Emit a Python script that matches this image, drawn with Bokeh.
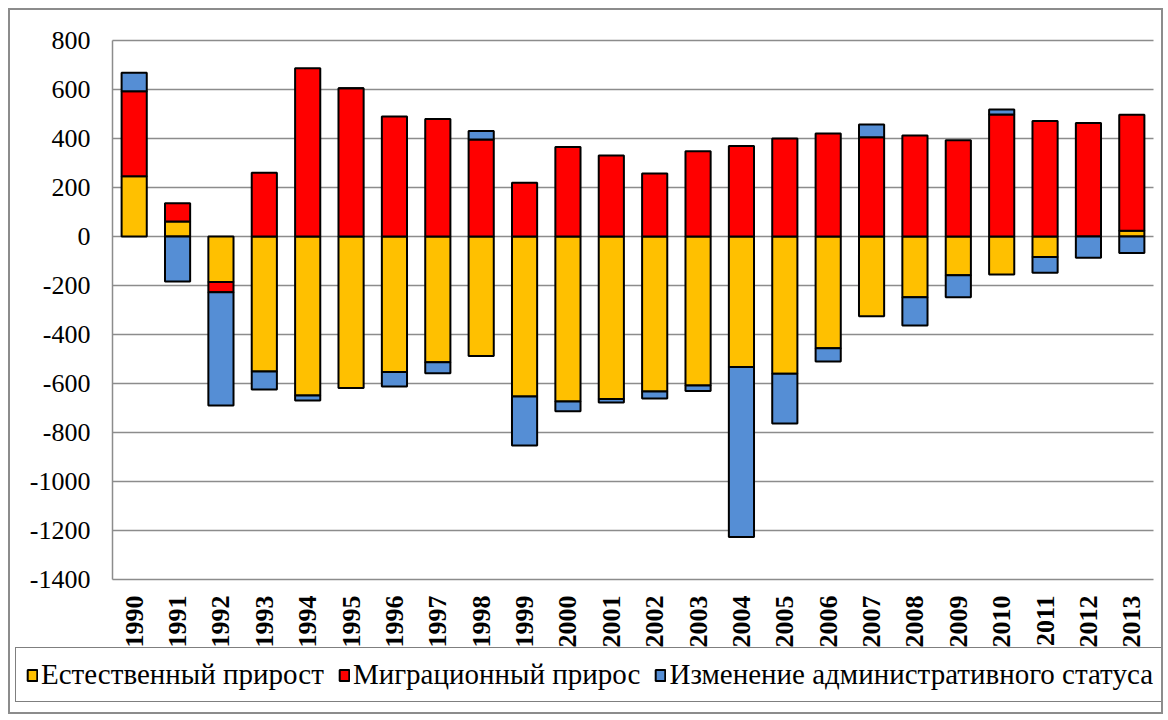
import math
import numpy as np
from bokeh.plotting import figure
from bokeh.models import (ColumnDataSource, Legend, LegendItem, CanvasTexture, Range1d)
from bokeh.core.properties import value
from bokeh.embed import file_html
from bokeh.resources import INLINE

# ---------------- data ----------------
years = ["1990", "1991", "1992", "1993", "1994", "1995", "1996", "1997",
         "1998", "1999", "2000", "2001", "2002", "2003", "2004", "2005",
         "2006", "2007", "2008", "2009", "2010", "2011", "2012", "2013"]
natural = [246, 61, -186, -551, -649, -618, -553, -513, -488, -653, -673, -663,
           -633, -608, -533, -560, -456, -325, -248, -158, -155, -84, 0, 23]
migration = [347, 75, -42, 260, 687, 605, 490, 480, 396, 219, 365, 331,
             257, 348, 369, 400, 420, 405, 412, 393, 498, 471, 463, 474]
admin = [75, -184, -462, -73, -20, 0, -59, -45, 35, -200, -40, -15,
         -28, -23, -694, -203, -54, 52, -115, -90, 20, -64, -87, -67]
series_names = ["Естественный прирост", "Миграционный прирос",
                "Изменение административного статуса"]
y_ticks = [-1400, -1200, -1000, -800, -600, -400, -200, 0, 200, 400, 600, 800]

# ---------------- stacking (Excel style: positives up, negatives down) -----
def stack(series_list):
    n = len(series_list[0])
    pos = np.zeros(n)
    neg = np.zeros(n)
    out = []
    for s in series_list:
        s = np.asarray(s, dtype=float)
        bottom = np.where(s >= 0, pos, neg)
        top = bottom + s
        pos = np.where(s >= 0, top, pos)
        neg = np.where(s < 0, top, neg)
        out.append((bottom, top))
    return out

stacks = stack([natural, migration, admin])
n = len(years)
idx = list(range(n))

# ---------------- layout (canvas pixels) ----------------
W, H = 1151, 702
PL, PR, PT, PB = 102, 1143, 30, 569          # plot area inside canvas
x_lo, x_hi = -0.5, n - 0.5
y_lo, y_hi = y_ticks[0], y_ticks[-1]
xs = (x_hi - x_lo) / (PR - PL)
ys = (y_hi - y_lo) / (PB - PT)
x_range = Range1d(x_lo - PL * xs, x_hi + (W - PR) * xs)
y_range = Range1d(y_lo - (H - PB) * ys, y_hi + PT * ys)

# ---------------- textures ----------------
yellow_checker = CanvasTexture(code="""
ctx.fillStyle = "#FFFFFF";
ctx.fillRect(0, 0, 6, 6);
ctx.fillStyle = "#FFC000";
ctx.fillRect(0, 0, 3, 3);
ctx.fillRect(3, 3, 3, 3);
""")
blue_plaid = CanvasTexture(code="""
ctx.fillStyle = "#FFFFFF";
ctx.fillRect(0, 0, 16, 16);
ctx.fillStyle = "#558ED5";
for (let i = 0; i < 8; i++) {
  for (let j = 0; j < 4; j++) {
    if ((i + j) % 2 == 0) { ctx.fillRect(i * 2, j * 2, 2, 2); }
  }
}
ctx.fillRect(0, 8, 8, 8);
""")

p = figure(x_range=x_range, y_range=y_range,
           frame_width=W, frame_height=H, min_border=0,
           x_axis_type=None, y_axis_type=None,
           output_backend="svg", toolbar_location=None,
           background_fill_color="white", border_fill_color="white")
p.styles = {"border": "2px solid #8c8c8c", "margin-left": "8px", "margin-top": "8px"}
p.outline_line_color = None

FONT = value("Liberation Serif")
GRID = "#8c8c8c"

# horizontal gridlines and value axis line
p.segment(x0=[x_lo] * len(y_ticks), x1=[x_hi] * len(y_ticks), y0=y_ticks, y1=y_ticks,
          line_color=GRID, line_width=1.5)
p.segment(x0=[x_lo], x1=[x_lo], y0=[y_lo], y1=[y_hi], line_color=GRID, line_width=1.5)

# tick labels
p.text(x=[x_lo] * len(y_ticks), y=y_ticks, text=[str(t) for t in y_ticks],
       x_offset=-22, text_align="right", text_baseline="middle",
       text_font=FONT, text_font_size=value("26px"), text_color="black")
p.text(x=idx, y=[y_lo] * n, text=years, angle=math.pi / 2, y_offset=16,
       text_align="right", text_baseline="middle",
       text_font=FONT, text_font_size=value("26px"), text_font_style="bold",
       text_color="black")

# bars
bar_w = 0.58
renderers = []
styles = [
    dict(fill_color="white", hatch_color="#FFC000", hatch_pattern="pat",
         hatch_scale=6, hatch_extra={"ychk": yellow_checker}, pat="ychk"),
    dict(fill_color="#FF0000", pat=None),
    dict(fill_color="white", hatch_color="#558ED5", hatch_pattern="pat",
         hatch_scale=16, hatch_extra={"bplaid": blue_plaid}, pat="bplaid"),
]
for (bottom, top), st in zip(stacks, styles):
    st = dict(st)
    pat = st.pop("pat")
    data = dict(x=idx, bottom=bottom, top=top)
    if pat is not None:
        data["pat"] = [pat] * n
    src = ColumnDataSource(data)
    r = p.vbar(x="x", bottom="bottom", top="top", width=bar_w, source=src,
               line_color="black", line_width=2, **st)
    renderers.append(r)

# ---------------- legend ----------------
legend = Legend(
    items=[LegendItem(label=nm, renderers=[r]) for nm, r in zip(series_names, renderers)],
    orientation="horizontal", location=(5, 10),
    label_text_font="Liberation Serif", label_text_font_size="29px",
    label_text_color="black",
    glyph_width=12, glyph_height=14, label_standoff=3, spacing=14,
    padding=10, margin=0,
    border_line_color="black", border_line_width=1.5,
    background_fill_color="white", background_fill_alpha=1.0,
)
p.add_layout(legend)

open("out.html", "w").write(file_html(p, INLINE))
